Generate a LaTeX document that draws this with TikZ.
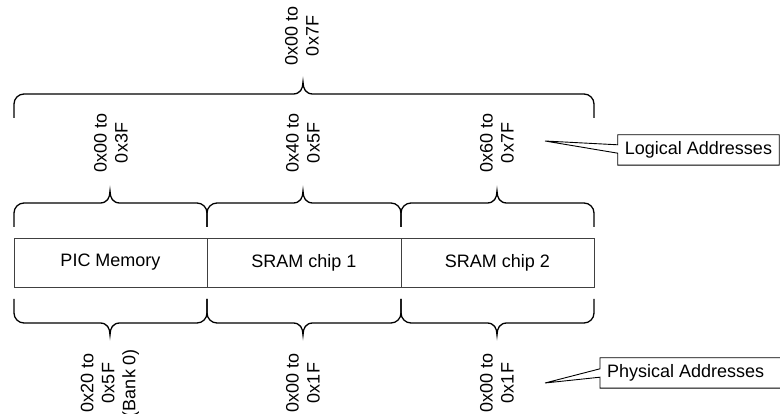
\documentclass[tikz,border=0pt]{standalone}
\usepackage{fontspec}
\setmainfont{Liberation Sans}
\usetikzlibrary{calc}
\tikzset{
  brace/.style={line width=1.3pt, black},
  lbl/.style={rotate=90, align=center, inner sep=0pt, font=\fontsize{18}{21}\selectfont},
  cell/.style={draw=black!75, line width=0.8pt, minimum height=49pt, inner sep=0pt, font=\fontsize{18}{21}\selectfont},
  calltext/.style={inner xsep=7pt, inner ysep=0pt, minimum height=30pt, font=\fontsize{18}{21}\selectfont},
  callline/.style={draw=black, line width=0.9pt, line join=miter},
}
\newcommand\mybrace[6]{%
  \draw[brace] ({#1},{#5}) -- ({#1},{#4+(#6)*10})
    .. controls ({#1},{#4+(#6)*4.5}) and ({#1+4.5},{#4}) .. ({#1+10},{#4})
    -- ({#3-10},{#4})
    .. controls ({#3-3},{#4}) and ({#3},{#4-(#6)*5}) .. ({#3},{#4-(#6)*12})
    .. controls ({#3},{#4-(#6)*5}) and ({#3+3},{#4}) .. ({#3+10},{#4})
    -- ({#2-10},{#4})
    .. controls ({#2-4.5},{#4}) and ({#2},{#4+(#6)*4.5}) .. ({#2},{#4+(#6)*10})
    -- ({#2},{#5});}
\begin{document}
\begin{tikzpicture}[x=1pt,y=-1pt]
\useasboundingbox (0,0) rectangle (780,414);
\clip (0,0) rectangle (780,414);
\fill[white] (0,0) rectangle (780,414);

% memory cells
\node[cell, minimum width=193pt] (pic) at (110.5,262.5) {PIC Memory};
\node[cell, minimum width=194pt] (sram1) at (304,262.5) {SRAM chip 1};
\node[cell, minimum width=193pt] (sram2) at (497.5,262.5) {SRAM chip 2};

% braces
\mybrace{14}{594}{303}{94}{118}{1}
\mybrace{14}{207}{110}{203}{227}{1}
\mybrace{207}{401}{303}{203}{227}{1}
\mybrace{401}{594}{497}{203}{227}{1}
\mybrace{14}{207}{110}{323}{299}{-1}
\mybrace{207}{401}{303}{323}{299}{-1}
\mybrace{401}{594}{497}{323}{299}{-1}

% address labels
\node[lbl] (ltop) at (302,36) {0x00 to\\0x7F};
\node[lbl] (l1) at (111,143) {0x00 to\\0x3F};
\node[lbl] (l2) at (303,143) {0x40 to\\0x5F};
\node[lbl] (l3) at (497,143) {0x60 to\\0x7F};
\node[lbl] (p1) at (110,383) {0x20 to\\0x5F\\(Bank 0)};
\node[lbl] (p2) at (303,383) {0x00 to\\0x1F};
\node[lbl] (p3) at (497,383) {0x00 to\\0x1F};

% callouts
\node[calltext, minimum width=161pt] (logical) at (698.5,150) {Logical Addresses};
\coordinate (ltip) at (545,141);
\draw[callline] (logical.north west) -- (logical.north east) -- (logical.south east)
  -- (logical.south west) -- ([yshift=12pt]logical.south west) -- (ltip)
  -- ([yshift=-10pt]logical.north west) -- cycle;

\node[calltext, anchor=west] (physical) at (600,373) {Physical Addresses};
\coordinate (ptip) at (545,383);
\draw[callline] ([xshift=20pt]physical.south east) -- (physical.south west)
  -- ([yshift=11pt]physical.south west) -- (ptip)
  -- ([yshift=-11pt]physical.north west) -- (physical.north west)
  -- ([xshift=20pt]physical.north east);
\end{tikzpicture}
\end{document}
